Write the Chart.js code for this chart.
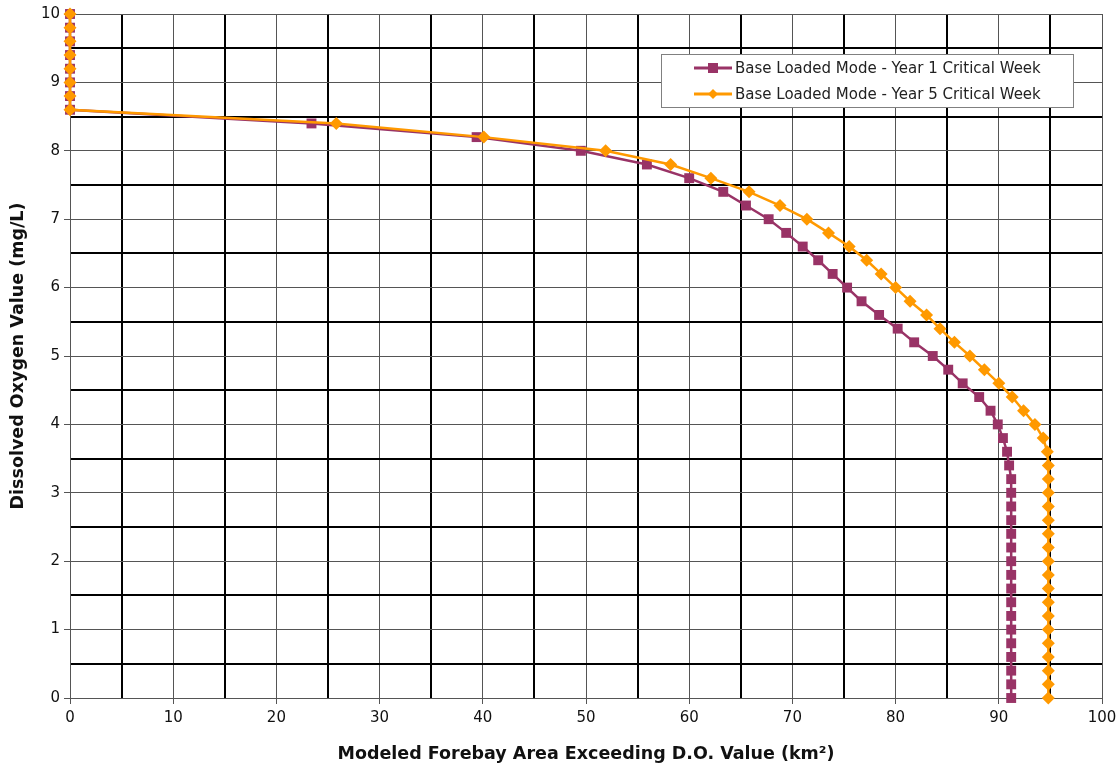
<!DOCTYPE html>
<html>
<head>
<meta charset="utf-8">
<script src="https://cdn.jsdelivr.net/npm/chart.js@4/dist/chart.umd.min.js"></script>
<style>
  html, body { margin: 0; padding: 0; background: #fff; }
  #wrap { width: 1119px; height: 769px; }
</style>
</head>
<body>
<div id="wrap"><canvas id="myChart" width="1119" height="769"></canvas></div>
<script>
// dissolved oxygen levels, 10 down to 0 in 0.2 steps
const doValues = [10, 9.8, 9.6, 9.4, 9.2, 9, 8.8, 8.6, 8.4, 8.2, 8, 7.8, 7.6, 7.4, 7.2, 7, 6.8, 6.6, 6.4, 6.2,
  6, 5.8, 5.6, 5.4, 5.2, 5, 4.8, 4.6, 4.4, 4.2, 4, 3.8, 3.6, 3.4, 3.2, 3, 2.8, 2.6, 2.4, 2.2,
  2, 1.8, 1.6, 1.4, 1.2, 1, 0.8, 0.6, 0.4, 0.2, 0];

// area exceeding DO value (km2)
const year1Area = [0, 0, 0, 0, 0, 0, 0, 0, 23.4, 39.4, 49.5, 55.9, 60.0, 63.3, 65.5, 67.7, 69.4, 71.0, 72.5, 73.9,
  75.3, 76.7, 78.4, 80.2, 81.8, 83.6, 85.1, 86.5, 88.1, 89.2, 89.9, 90.4, 90.8, 91.0, 91.2, 91.2, 91.2, 91.2, 91.2, 91.2,
  91.2, 91.2, 91.2, 91.2, 91.2, 91.2, 91.2, 91.2, 91.2, 91.2, 91.2];
const year5Area = [0, 0, 0, 0, 0, 0, 0, 0, 25.8, 40.1, 51.9, 58.2, 62.1, 65.8, 68.8, 71.4, 73.5, 75.5, 77.2, 78.6,
  80.0, 81.4, 83.0, 84.3, 85.7, 87.2, 88.6, 90.0, 91.3, 92.4, 93.5, 94.3, 94.7, 94.8, 94.8, 94.8, 94.8, 94.8, 94.8, 94.8,
  94.8, 94.8, 94.8, 94.8, 94.8, 94.8, 94.8, 94.8, 94.8, 94.8, 94.8];

const seriesLabels = ['Base Loaded Mode - Year 1 Critical Week', 'Base Loaded Mode - Year 5 Critical Week'];
const xTitle = 'Modeled Forebay Area Exceeding D.O. Value (km\u00B2)';
const yTitle = 'Dissolved Oxygen Value (mg/L)';

const FONT = "'DejaVu Sans', Tahoma, sans-serif";
const PURPLE = '#993366';
const ORANGE = '#FF9900';

const toPoints = (xs) => xs.map((x, i) => ({ x: x, y: doValues[i] }));

// legend box drawn inside the plot, top right
const insideLegend = {
  id: 'insideLegend',
  afterDraw(chart) {
    const ctx = chart.ctx;
    const x0 = 661, y0 = 54, w = 412, h = 53;
    ctx.save();
    ctx.fillStyle = '#fff';
    ctx.fillRect(x0, y0, w, h);
    ctx.strokeStyle = '#808080';
    ctx.lineWidth = 1;
    ctx.strokeRect(x0 + 0.5, y0 + 0.5, w, h);
    chart.data.datasets.forEach((ds, i) => {
      const ly = y0 + 14 + i * 26;
      ctx.strokeStyle = ds.borderColor;
      ctx.lineWidth = 3;
      ctx.beginPath();
      ctx.moveTo(694, ly);
      ctx.lineTo(732, ly);
      ctx.stroke();
      ctx.fillStyle = ds.backgroundColor;
      if (ds.pointStyle === 'rect') {
        ctx.fillRect(708, ly - 5, 10, 10);
      } else {
        ctx.beginPath();
        ctx.moveTo(713, ly - 5);
        ctx.lineTo(718, ly);
        ctx.lineTo(713, ly + 5);
        ctx.lineTo(708, ly);
        ctx.closePath();
        ctx.fill();
      }
      ctx.fillStyle = '#222';
      ctx.font = '15px ' + FONT;
      ctx.textBaseline = 'middle';
      ctx.fillText(ds.label, 735, ly + 1);
    });
    ctx.restore();
  }
};

new Chart(document.getElementById('myChart'), {
  type: 'scatter',
  data: {
    datasets: [{
      label: seriesLabels[0],
      data: toPoints(year1Area),
      borderColor: PURPLE,
      backgroundColor: PURPLE,
      pointStyle: 'rect',
      pointRadius: 7,
      borderWidth: 2.5,
      pointBorderWidth: 0,
      showLine: true,
      clip: false,
      order: 2
    }, {
      label: seriesLabels[1],
      data: toPoints(year5Area),
      borderColor: ORANGE,
      backgroundColor: ORANGE,
      pointStyle: 'rectRot',
      pointRadius: 6.5,
      borderWidth: 2.5,
      pointBorderWidth: 0,
      showLine: true,
      clip: false,
      order: 1
    }]
  },
  options: {
    responsive: false,
    animation: false,
    layout: { padding: { top: 14, right: 17, left: 0, bottom: 0 } },
    plugins: {
      legend: { display: false },
      tooltip: { enabled: false }
    },
    scales: {
      x: {
        type: 'linear',
        min: 0,
        max: 100,
        afterFit(scale) {
          scale.height = 71;
          scale.paddingRight = 0;
          scale.paddingLeft = 0;
        },
        ticks: {
          stepSize: 5,
          autoSkip: false,
          maxRotation: 0,
          padding: 5,
          color: '#111',
          font: { family: FONT, size: 15 },
          callback: (v) => (v % 10 === 0 ? v : '')
        },
        grid: {
          color: (c) => (c.tick && c.tick.value % 10 === 0 ? '#555' : '#000'),
          lineWidth: (c) => (c.tick && c.tick.value % 10 === 0 ? 1 : 2),
          tickColor: (c) => (c.tick && c.tick.value % 10 === 0 ? '#555' : 'rgba(0,0,0,0)'),
          tickLength: 6
        },
        border: { color: '#555', width: 1 },
        title: {
          display: true,
          text: xTitle,
          color: '#111',
          font: { family: FONT, size: 17.5, weight: 'bold' },
          padding: { top: 8 }
        }
      },
      y: {
        type: 'linear',
        min: 0,
        max: 10,
        afterFit(scale) { scale.width = 70; },
        ticks: {
          stepSize: 0.5,
          autoSkip: false,
          padding: 4,
          color: '#111',
          font: { family: FONT, size: 15 },
          callback: (v) => (Number.isInteger(v) ? v : '')
        },
        grid: {
          color: (c) => (c.tick && Number.isInteger(c.tick.value) ? '#555' : '#000'),
          lineWidth: (c) => (c.tick && Number.isInteger(c.tick.value) ? 1 : 2),
          tickColor: (c) => (c.tick && Number.isInteger(c.tick.value) ? '#555' : 'rgba(0,0,0,0)'),
          tickLength: 6
        },
        border: { color: '#555', width: 1 },
        title: {
          display: true,
          text: yTitle,
          color: '#111',
          font: { family: FONT, size: 17.5, weight: 'bold' },
          padding: { top: 8, bottom: 4 }
        }
      }
    }
  },
  plugins: [insideLegend]
});
</script>
</body>
</html>
